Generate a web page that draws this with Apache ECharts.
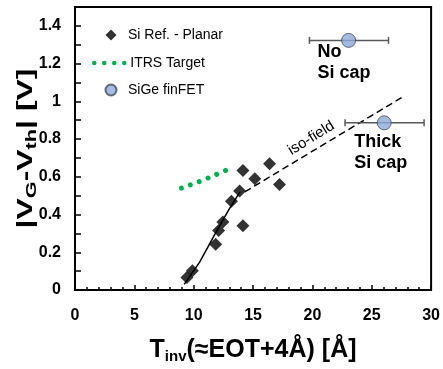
<!DOCTYPE html>
<html><head><meta charset="utf-8">
<script src="https://cdn.jsdelivr.net/npm/echarts@6/dist/echarts.min.js"></script>
<style>html,body{margin:0;padding:0;background:#fff}#c{width:443px;height:369px}</style>
</head><body><div id="c"></div>
<script>
// ---- data ----
const siRefX = [9.43, 9.89, 11.85, 12.1, 12.46, 13.18, 13.87, 14.15, 14.15, 15.15, 16.39, 17.23];
const siRefY = [0.066, 0.102, 0.243, 0.315, 0.36, 0.47, 0.525, 0.633, 0.341, 0.59, 0.669, 0.559];
const itrsX = [8.96, 10.45, 11.9, 13.36];
const itrsY = [0.540, 0.574, 0.612, 0.653];
const fitX = [9.2, 10.5, 12.0, 13.0, 13.9];
const fitY = [0.03, 0.148, 0.32, 0.43, 0.52];
const isoX = [14.3, 27.6];
const isoY = [0.52, 1.023];
const sigeX = [23.05, 26.05];
const sigeY = [1.323, 0.886];
const sigeErrLo = [19.75, 22.75];
const sigeErrHi = [26.41, 29.41];
const legendNames = ['Si Ref. - Planar', 'ITRS Target', 'SiGe finFET'];

const FF = '"Liberation Sans", Arial, sans-serif';
const GREEN = '#00b050';
const zip = (a, b) => a.map((v, i) => [v, b[i]]);
const legendText = {fontSize: 14, color: '#000', fontFamily: FF, lineHeight: 16};
// diamond icon centred in a 24-wide box (degenerate points fix the box width)
const diamondIcon = 'path://M0,5.5L0,5.5M24,5.5L24,5.5M12,0L17.5,5.5L12,11L6.5,5.5Z';

const chart = echarts.init(document.getElementById('c'), null, {renderer: 'canvas'});
const option = {
  animation: false,
  backgroundColor: '#fff',
  grid: {left: 75, right: 11, top: 7, bottom: 72, show: true, borderColor: '#000', borderWidth: 2},
  legend: [
    {
      data: [{name: legendNames[0], icon: diamondIcon}, {name: legendNames[2], icon: 'circle'}],
      orient: 'vertical', left: 99, top: 27, padding: 0, itemWidth: 24, itemHeight: 11, itemGap: 39,
      symbolKeepAspect: true, textStyle: legendText
    },
    {
      data: [legendNames[1]],
      orient: 'vertical', left: 92, top: 55, padding: 0, itemWidth: 31, itemHeight: 11,
      itemStyle: {opacity: 0},
      lineStyle: {width: 4.5, type: [0.01, 10], cap: 'round', color: GREEN},
      textStyle: legendText
    }
  ],
  xAxis: {
    type: 'value', min: 0, max: 30, interval: 5,
    axisLine: {lineStyle: {color: '#000', width: 2}},
    axisTick: {inside: true, length: 5, lineStyle: {color: '#000', width: 1.5}},
    minorTick: {show: true, splitNumber: 5, length: 3, lineStyle: {color: '#000', width: 1.5}},
    splitLine: {show: false},
    axisLabel: {fontSize: 16, fontWeight: 'bold', color: '#000', fontFamily: FF, margin: 18},
    name: '{a|T}{s|inv}{a|(≈EOT+4Å) [Å]}', nameLocation: 'middle', nameGap: 46,
    nameTextStyle: {rich: {
      a: {fontSize: 25, fontWeight: 'bold', color: '#000', fontFamily: FF, lineHeight: 28},
      s: {fontSize: 15, fontWeight: 'bold', color: '#000', fontFamily: FF, lineHeight: 10, verticalAlign: 'bottom'}
    }}
  },
  yAxis: {
    type: 'value', min: 0, max: 1.5, interval: 0.1,
    axisLine: {show: true, lineStyle: {color: '#000', width: 2}},
    axisTick: {show: true, inside: true, length: 6, lineStyle: {color: '#000', width: 1.5}},
    splitLine: {show: false},
    axisLabel: {
      fontSize: 16, fontWeight: 'bold', color: '#000', fontFamily: FF, margin: 14,
      formatter: v => (Math.round(v * 10) % 2 === 0 ? String(+v.toFixed(1)) : '')
    }
  },
  series: [
    {
      name: 'fit', type: 'line', data: zip(fitX, fitY), symbol: 'none',
      lineStyle: {color: '#000', width: 1.5}, z: 2
    },
    {
      name: 'iso', type: 'line', data: zip(isoX, isoY), symbol: 'none',
      lineStyle: {color: '#000', width: 1.5, type: [7, 4]}, z: 2
    },
    {
      name: legendNames[1], type: 'line', data: zip(itrsX, itrsY), symbol: 'none', smooth: 0.3,
      color: GREEN,
      lineStyle: {color: GREEN, width: 5, type: [0.01, 9.5], cap: 'round'}, z: 3
    },
    {
      name: legendNames[0], type: 'scatter', data: zip(siRefX, siRefY), symbol: 'diamond', symbolSize: 13,
      itemStyle: {color: '#000'}, z: 4
    },
    {
      name: 'err', type: 'custom', z: 3,
      data: sigeX.map((v, i) => [sigeErrLo[i], sigeErrHi[i], sigeY[i]]),
      renderItem: (params, api) => {
        const a = api.coord([api.value(0), api.value(2)]);
        const b = api.coord([api.value(1), api.value(2)]);
        const st = {stroke: '#595959', lineWidth: 1.5};
        return {type: 'group', children: [
          {type: 'line', shape: {x1: a[0], y1: a[1], x2: b[0], y2: b[1]}, style: st},
          {type: 'line', shape: {x1: a[0], y1: a[1] - 3.5, x2: a[0], y2: a[1] + 3.5}, style: st},
          {type: 'line', shape: {x1: b[0], y1: b[1] - 3.5, x2: b[0], y2: b[1] + 3.5}, style: st}
        ]};
      }
    },
    {
      name: legendNames[2], type: 'scatter', data: zip(sigeX, sigeY), symbol: 'circle', symbolSize: 14,
      itemStyle: {color: '#8fa9da', borderColor: '#3f4a5c', borderWidth: 1}, z: 5
    }
  ]
};
chart.setOption(option);

const px = (x, y) => chart.convertToPixel({gridIndex: 0}, [x, y]);
const noCap = px(20.42, 1.319), thick = px(23.53, 0.841), iso = px(19.9, 0.805), yMid = px(0, 0.75);
const sub = {fontSize: 15, fontWeight: 'bold', fill: '#000', fontFamily: FF, lineHeight: 10, verticalAlign: 'bottom'};
const main = {fontSize: 22, fontWeight: 'bold', fill: '#000', fontFamily: FF, lineHeight: 26};
chart.setOption({graphic: [
  {type: 'text', x: yMid[0] - 49, y: yMid[1], rotation: Math.PI / 2, scaleX: 1.45, scaleY: 1,
   style: {text: '{a||V}{s|G}{a|-V}{s|th}{a|| [V]}', rich: {a: main, s: sub}, align: 'center', verticalAlign: 'middle'}},
  {type: 'text', x: noCap[0], y: noCap[1], style: {text: 'No\nSi cap', fontSize: 18, fontWeight: 'bold', fontFamily: FF, fill: '#000', lineHeight: 21, align: 'left', verticalAlign: 'top'}},
  {type: 'text', x: thick[0], y: thick[1], style: {text: 'Thick\nSi cap', fontSize: 18, fontWeight: 'bold', fontFamily: FF, fill: '#000', lineHeight: 21, align: 'left', verticalAlign: 'top'}},
  {type: 'text', x: iso[0], y: iso[1], rotation: 31.8 * Math.PI / 180, style: {text: 'iso-field', fontSize: 15, fontFamily: FF, fill: '#000', align: 'center', verticalAlign: 'middle'}}
]});
</script></body></html>
